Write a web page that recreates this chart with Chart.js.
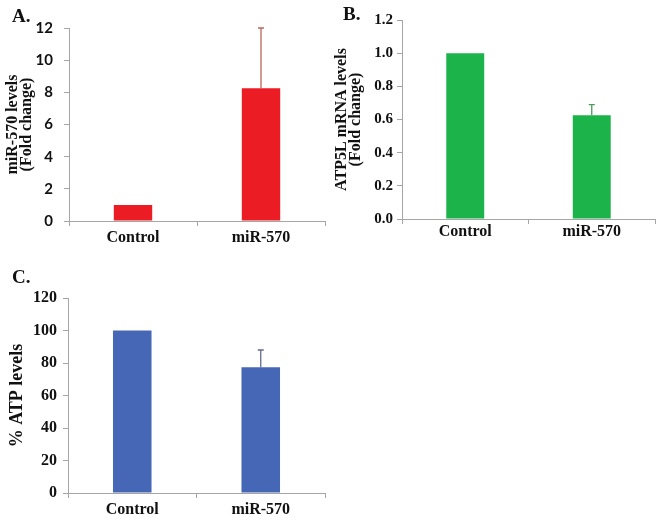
<!DOCTYPE html>
<html>
<head>
<meta charset="utf-8">
<script src="https://cdn.jsdelivr.net/npm/chart.js@4.4.0/dist/chart.umd.min.js"></script>
<style>
    body { margin: 0; background: #fff; }
    #wrap { position: relative; width: 661px; height: 525px; }
    .panel { position: absolute; }
    .tag { position: absolute; font: bold 19px "Liberation Serif", "Times New Roman", serif; color: #111; }
</style>
</head>
<body>
<div id="wrap">
    <canvas class="panel" id="chartA" width="330" height="260" style="left:0;top:0"></canvas>
    <canvas class="panel" id="chartB" width="331" height="260" style="left:330px;top:0"></canvas>
    <canvas class="panel" id="chartC" width="330" height="265" style="left:0;top:260px"></canvas>
    <div class="tag" style="left:12px;top:5px">A.</div>
    <div class="tag" style="left:343px;top:3px">B.</div>
    <div class="tag" style="left:12px;top:266px">C.</div>
</div>
<script>
const categories = ['Control', 'miR-570'];

// A. miR-570 levels (fold change)
const mirValues = [1.0, 8.25];
const mirErrors = [0, 3.75];
const mirTicks = [0, 2, 4, 6, 8, 10, 12];
const mirTickLabels = ['0', '2', '4', '6', '8', '10', '12'];

// B. ATP5L mRNA levels (fold change)
const atp5lValues = [1.0, 0.625];
const atp5lErrors = [0, 0.065];
const atp5lTicks = [0, 0.2, 0.4, 0.6, 0.8, 1.0, 1.2];
const atp5lTickLabels = ['0.0', '0.2', '0.4', '0.6', '0.8', '1.0', '1.2'];

// C. % ATP levels
const atpValues = [100, 77.4];
const atpErrors = [0, 10.6];
const atpTicks = [0, 20, 40, 60, 80, 100, 120];
const atpTickLabels = ['0', '20', '40', '60', '80', '100', '120'];

const SERIF = '"Liberation Serif", "Times New Roman", serif';
const AXIS = '#a6a6a6';

// 片側だけのエラーバー(上方向)
const errorBars = {
    id: 'errorBars',
    afterDatasetsDraw(chart, args, opts) {
        const ctx = chart.ctx;
        const y = chart.scales.y;
        const ds = chart.data.datasets[0];
        ctx.save();
        ctx.strokeStyle = opts.color;
        ctx.lineWidth = 1.3;
        chart.getDatasetMeta(0).data.forEach((bar, i) => {
            const err = ds.errors[i];
            if (!err) return;
            const top = y.getPixelForValue(ds.data[i] + err);
            ctx.beginPath();
            ctx.moveTo(bar.x, bar.y);
            ctx.lineTo(bar.x, top);
            ctx.moveTo(bar.x - 3, top);
            ctx.lineTo(bar.x + 3, top);
            ctx.stroke();
        });
        ctx.restore();
    }
};

function createGraph(canvasId, values, errors, ticks, tickLabels, cfg) {
    const ctx = document.getElementById(canvasId);

    new Chart(ctx, {
        type: 'bar',
        data: {
            labels: categories,
            datasets: [{
                data: values,
                errors: errors,
                backgroundColor: cfg.color,
                borderWidth: 0,
                barPercentage: 0.3,
                categoryPercentage: 1.0,
            }]
        },
        options: {
            responsive: false,
            animation: false,
            layout: { padding: cfg.padding },
            scales: {
                x: {
                    afterFit: s => { s.height = cfg.xHeight; },
                    border: { color: AXIS },
                    grid: {
                        drawOnChartArea: false,
                        tickLength: 5,
                        color: AXIS,
                    },
                    ticks: {
                        color: '#111',
                        padding: cfg.xPad,
                        font: { family: SERIF, size: 16, weight: 'bold', lineHeight: 1 }
                    }
                },
                y: {
                    min: ticks[0],
                    max: ticks[ticks.length - 1],
                    afterFit: s => { s.width = cfg.yWidth; },
                    afterBuildTicks: s => { s.ticks = ticks.map(v => ({ value: v })); },
                    border: { color: AXIS },
                    grid: {
                        drawOnChartArea: false,
                        tickLength: 5,
                        color: AXIS,
                    },
                    ticks: {
                        color: '#111',
                        padding: cfg.yPad,
                        font: cfg.tickFont,
                        callback: (v, i) => tickLabels[i]
                    },
                    title: {
                        display: true,
                        text: cfg.title,
                        color: '#111',
                        padding: { top: cfg.titlePad, bottom: 0 },
                        font: { family: SERIF, size: cfg.titleSize, weight: 'bold', lineHeight: cfg.titleLine }
                    }
                }
            },
            plugins: {
                legend: { display: false },
                tooltip: { enabled: false },
                errorBars: { color: cfg.errColor }
            }
        },
        plugins: [errorBars]
    });
}

createGraph('chartA', mirValues, mirErrors, mirTicks, mirTickLabels, {
    color: '#ec1c24', errColor: '#b8675f',
    padding: { left: 0, top: 28, right: 5, bottom: 0 },
    xHeight: 39, yWidth: 69, xPad: 4, yPad: 11,
    tickFont: { family: 'Lato, "Open Sans", sans-serif', size: 15, weight: 'bold' },
    title: ['miR-570 levels', '(Fold change)'], titleSize: 16, titleLine: 0.88, titlePad: 6
});

createGraph('chartB', atp5lValues, atp5lErrors, atp5lTicks, atp5lTickLabels, {
    color: '#1db34b', errColor: '#4e9a5a',
    padding: { left: 0, top: 20, right: 6, bottom: 0 },
    xHeight: 41, yWidth: 72, xPad: 0, yPad: 4,
    tickFont: { family: SERIF, size: 15, weight: 'bold' },
    title: ['ATP5L mRNA levels', '(Fold change)'], titleSize: 16, titleLine: 0.88, titlePad: 5
});

createGraph('chartC', atpValues, atpErrors, atpTicks, atpTickLabels, {
    color: '#4666b6', errColor: '#65698f',
    padding: { left: 0, top: 38, right: 5, bottom: 0 },
    xHeight: 32, yWidth: 68, xPad: 4, yPad: 6,
    tickFont: { family: SERIF, size: 16, weight: 'bold' },
    title: '% ATP levels', titleSize: 18, titleLine: 1, titlePad: 8
});
</script>
</body>
</html>
